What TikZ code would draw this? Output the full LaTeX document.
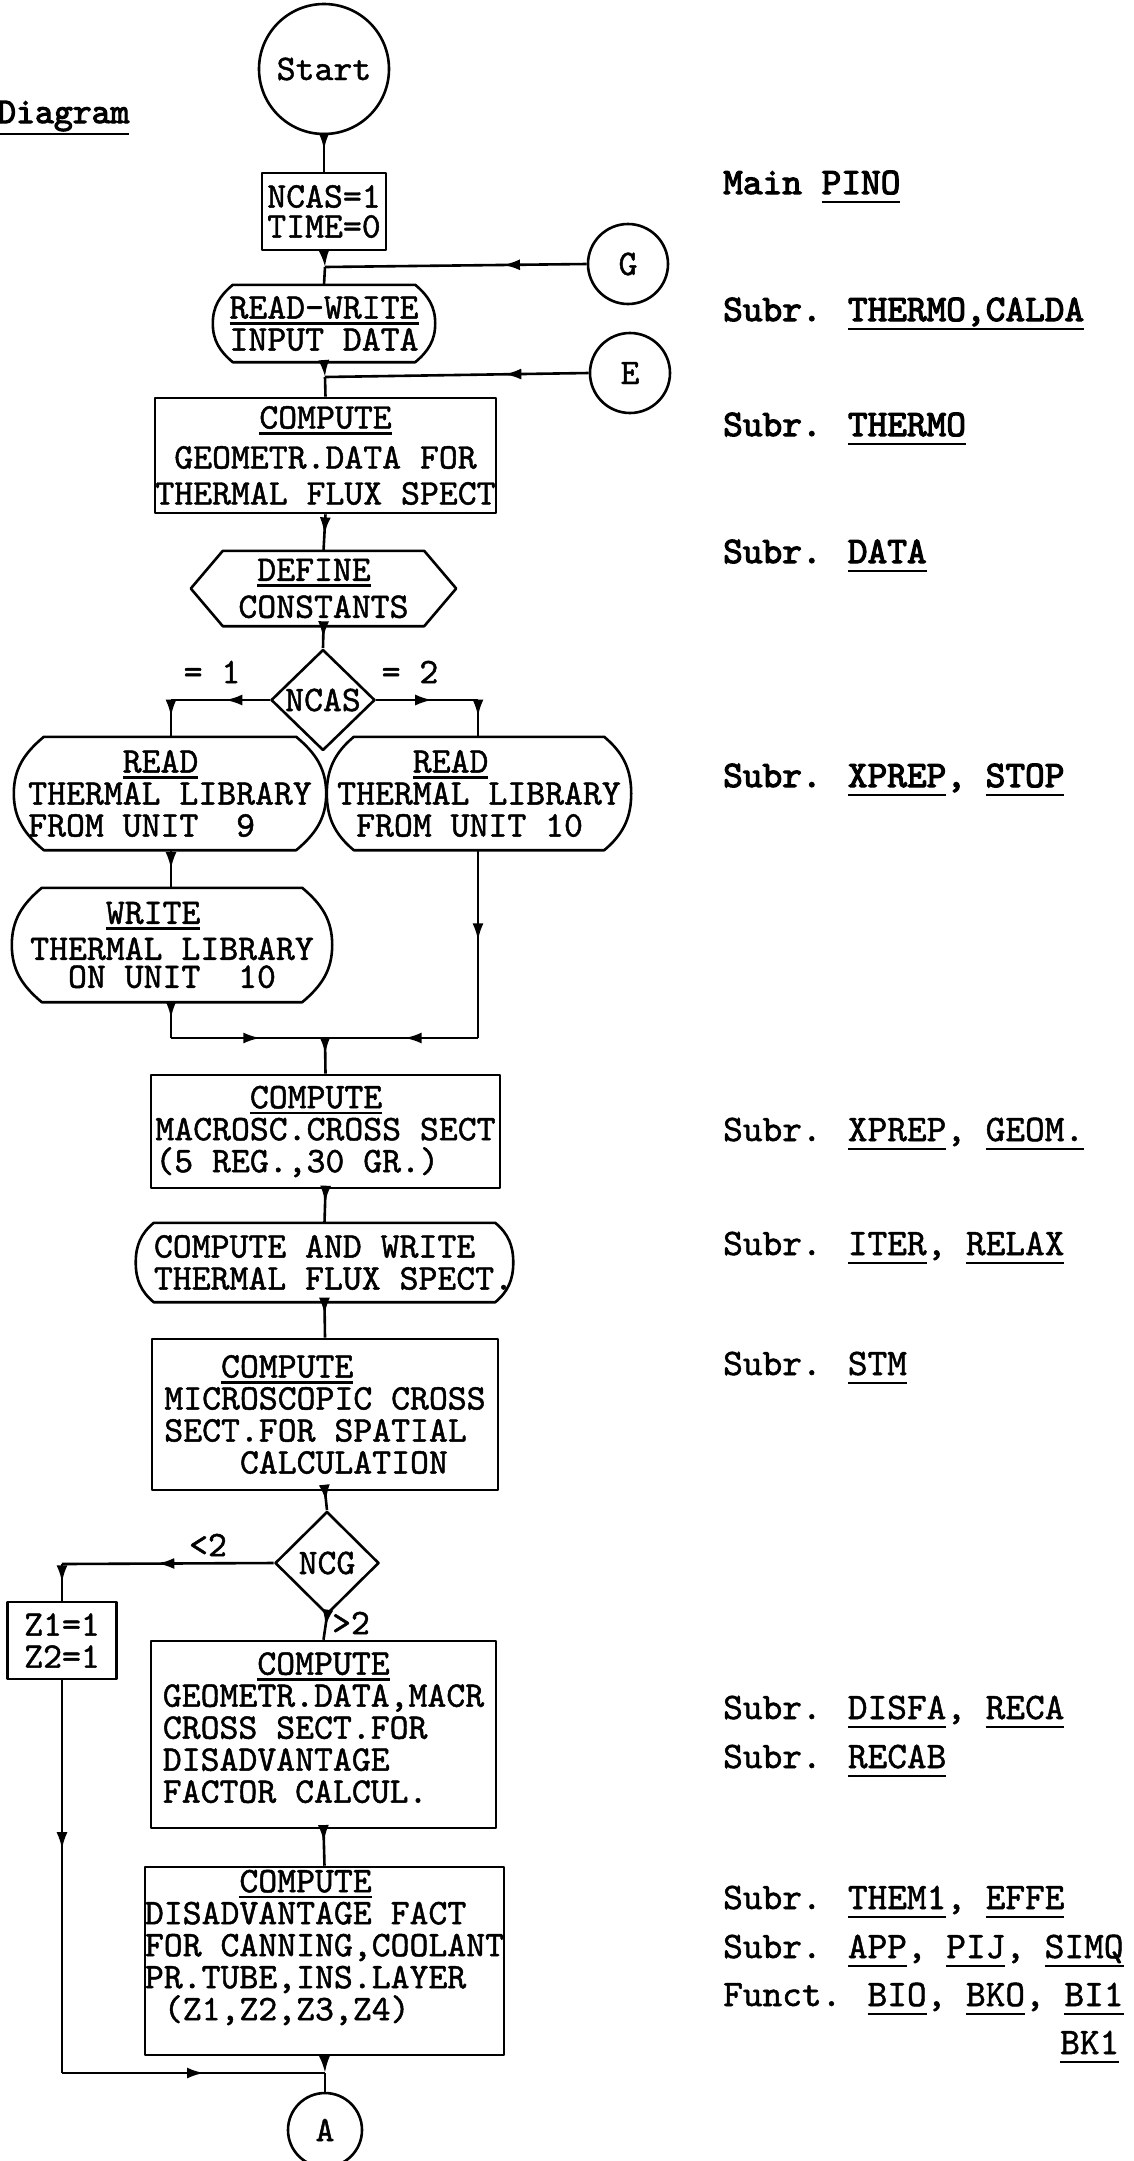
\documentclass[tikz,border=0pt]{standalone}
\usepackage{fontspec}
\newfontfamily\tw{lmmono10-regular.otf}[FakeBold=1.3]
\newfontfamily\twb{lmmono10-regular.otf}[FakeBold=3]
\usetikzlibrary{arrows.meta,decorations.markings,shapes.geometric}
\newcommand\uln[2][-6pt]{\setbox0=\hbox{#2}\rlap{\rule[#1]{\wd0}{2.4pt}}\box0}
\newcommand\ph[1]{\phantom{#1}}
\newcommand\ioshape[2]{\draw[ln] ([xshift=#2]#1.north west) -- ([xshift=-#2]#1.north east)
  to[out=-40,in=90] (#1.east) to[out=-90,in=40] ([xshift=-#2]#1.south east)
  -- ([xshift=#2]#1.south west) to[out=140,in=-90] (#1.west)
  to[out=90,in=220] ([xshift=#2]#1.north west) -- cycle;}
\newcommand\hexshape[2]{\draw[ln] ([xshift=#2]#1.north west) -- ([xshift=-#2]#1.north east)
  -- (#1.east) -- ([xshift=-#2]#1.south east) -- ([xshift=#2]#1.south west) -- (#1.west) -- cycle;}
\tikzset{
  >={Latex[length=17pt,width=11pt]},
  ln/.style={line width=2.6pt, line join=round},
  bfont/.style={font=\tw\fontsize{36}{32}\selectfont},
  box/.style={draw, ln, rectangle, inner sep=0pt, align=center, bfont},
  io/.style={rectangle, inner sep=0pt, align=center, bfont},
  circ/.style={draw, ln, circle, inner sep=0pt, bfont},
  dia/.style={draw, ln, diamond, inner sep=0pt, bfont},
  lab/.style={inner sep=0pt, anchor=base west, font=\tw\fontsize{37.5}{40}\selectfont},
  labb/.style={inner sep=0pt, anchor=base west, font=\twb\fontsize{37.5}{40}\selectfont},
  small/.style={inner sep=0pt, bfont},
  ar/.style={postaction={decorate}, decoration={markings, mark=at position #1 with {\arrow{>}}}},
}
\begin{document}
\begin{tikzpicture}[x=1pt,y=1pt]
\useasboundingbox (0,0) rectangle (1134,-2161);
\fill[white] (0,0) rectangle (1134,-2161);

% title
\node[inner sep=0pt, anchor=base west, font=\twb\fontsize{36}{40}\selectfont] (title) at (-3,-123) {\uln[-12pt]{Diagram}};

% main column
\node[circ, minimum size=130] (start) at (324,-69) {Start};
\node[box, align=left, minimum width=124, minimum height=77] (nbox) at (324,-211.5) {NCAS=1\\[-2pt]TIME=0};
\node[circ, minimum size=80] (G) at (628,-264) {G};
\coordinate (jg) at (325,-267);
\node[io, minimum width=222, minimum height=77] (rw) at (324,-323.5) {\uln{READ-WRITE}\\INPUT DATA};
\ioshape{rw}{20}
\node[circ, minimum size=80] (E) at (630,-373) {E};
\coordinate (je) at (325,-377);
\node[box, minimum width=341, minimum height=115] (geo) at (325.5,-455.5) {\uln{COMPUTE}\\[8pt]GEOMETR.DATA FOR\\[4pt]THERMAL FLUX SPECT};
\node[io, align=left, minimum width=265, minimum height=75] (def) at (323.5,-588.5) {\ph{X}\uln{DEFINE}\\[5pt]CONSTANTS};
\hexshape{def}{32}
\node[dia, minimum width=104, minimum height=101] (ncas) at (323,-700) {\makebox[0pt]{NCAS}};
\coordinate (c1) at (171,-700);
\coordinate (c2) at (478,-700);
\node[small] (eq1) at (212,-672) {= 1};
\node[small] (eq2) at (410,-672) {= 2};

\node[io, align=left, minimum width=312, minimum height=113] (read9) at (170,-793.5) {\ph{XXXXX}\uln{READ}\\THERMAL LIBRARY\\FROM UNIT\ \ 9};
\ioshape{read9}{30}
\node[io, align=left, minimum width=304, minimum height=113] (read10) at (479,-793.5) {\ph{XXXX}\uln{READ}\\THERMAL LIBRARY\\\ph{X}FROM UNIT 10};
\ioshape{read10}{27}
\node[io, align=left, minimum width=320, minimum height=114] (write) at (172,-945) {\ph{XXXX}\uln{WRITE}\\[4pt]THERMAL LIBRARY\\[-4pt]\ph{XX}ON UNIT\ \ 10};
\ioshape{write}{30}
\coordinate (m1) at (171,-1038);
\coordinate (m2) at (478,-1038);
\coordinate (m0) at (325,-1038);

\node[box, align=left, minimum width=349, minimum height=113] (mac) at (325.5,-1131.5) {\ph{XXXXX}\uln{COMPUTE}\\MACROSC.CROSS SECT\\(5 REG.,30 GR.)};
\node[io, align=left, minimum width=375, minimum height=79] (caw) at (324.5,-1262.5) {\hspace*{18pt}COMPUTE AND WRITE\\\hspace*{18pt}THERMAL FLUX SPECT.};
\ioshape{caw}{18}
\node[box, align=left, minimum width=346, minimum height=151] (mic) at (325,-1414.5) {\ph{XXX}\uln{COMPUTE}\\MICROSCOPIC CROSS\\SECT.FOR SPATIAL\\\ph{XXXX}CALCULATION};
\node[dia, minimum width=104, minimum height=103] (ncg) at (327,-1563) {\makebox[0pt]{NCG}};
\coordinate (c3) at (62,-1564);
\node[small] (lt2) at (208,-1545) {<2};
\node[small] (gt2) at (351,-1623) {>2};
\node[box, align=left, minimum width=109, minimum height=77] (z) at (62,-1640.5) {Z1=1\\Z2=1};
\node[box, align=left, minimum width=345, minimum height=187] (gdm) at (323.5,-1734.5) {\ph{XXXXX}\uln{COMPUTE}\\GEOMETR.DATA,MACR\\CROSS SECT.FOR\\DISADVANTAGE\\FACTOR CALCUL.\\[-18pt]\mbox{}};
\node[box, align=left, minimum width=347, minimum height=188] (dis) at (324.5,-1961) {\ph{XXXXX}\uln{COMPUTE}\\DISADVANTAGE FACT\\FOR CANNING,COOLANT\\PR.TUBE,INS.LAYER\\\ph{X}(Z1,Z2,Z3,Z4)\\\mbox{}};
\coordinate (c4) at (62,-2073);
\coordinate (jA) at (325,-2073);
\node[circ, minimum size=74] (A) at (325,-2130) {A};

% connectors
\draw[ln, ar=0.4] (start.south) -- (nbox.north);
\draw[ln, ->] (nbox.south) -- (jg);
\draw[ln] (jg) -- (rw.north);
\draw[ln, ar=0.32] (G.west) -- (jg);
\draw[ln, ->] (rw.south) -- (je);
\draw[ln] (je) -- (geo.north);
\draw[ln, ar=0.32] (E.west) -- (je);
\draw[ln, ar=0.55] (geo.south) -- (def.north);
\draw[ln, ar=0.55] (def.south) -- (ncas.north);
\draw[ln, ar=0.45] (ncas.west) -- (c1);
\draw[ln, ar=0.45] (c1) -- (c1 |- read9.north);
\draw[ln, ar=0.55] (ncas.east) -- (c2);
\draw[ln, ar=0.45] (c2) -- (c2 |- read10.north);
\draw[ln, ar=0.5] (c1 |- read9.south) -- (c1 |- write.north);
\draw[ln, ar=0.45] (c1 |- write.south) -- (m1);
\draw[ln, ar=0.58] (m1) -- (m0);
\draw[ln, ar=0.48] (m2 |- read10.south) -- (m2);
\draw[ln, ar=0.48] (m2) -- (m0);
\draw[ln, ar=0.45] (m0) -- (mac.north);
\draw[ln, ar=0.4] (mac.south) -- (caw.north);
\draw[ln, ar=0.35] (caw.south) -- (mic.north);
\draw[ln, ar=0.55] (mic.south) -- (ncg.north);
\draw[ln, ar=0.55] (ncg.west) -- (c3);
\draw[ln, ar=0.5] (c3) -- (z.north);
\draw[ln, ar=0.45] (ncg.south) -- (gdm.north);
\draw[ln, ar=0.35] (gdm.south) -- (dis.north);
\draw[ln, ar=0.43] (z.south) -- (c4);
\draw[ln, ar=0.54] (c4) -- (jA);
\draw[ln, ->] (dis.south) -- (jA);
\draw[ln] (jA) -- (A.north);

% right-hand labels
\node[labb] (l1) at (723,-194) {Main \uln[-9pt]{PINO}};
\node[labb] (l2) at (723,-321) {Subr. \uln[-9pt]{THERMO,CALDA}};
\node[labb] (l3) at (723,-436) {Subr. \uln[-9pt]{THERMO}};
\node[labb] (l4) at (723,-563) {Subr. \uln[-9pt]{DATA}};
\node[labb] (l5) at (723,-787) {Subr. \uln[-9pt]{XPREP}, \uln[-9pt]{STOP}};
\node[lab] (l6) at (723,-1141) {Subr. \uln[-9pt]{XPREP}, \uln[-9pt]{GEOM.}};
\node[lab] (l7) at (723,-1255) {Subr. \uln[-9pt]{ITER}, \uln[-9pt]{RELAX}};
\node[lab] (l8) at (723,-1375) {Subr. \uln[-9pt]{STM}};
\node[lab] (l9) at (723,-1719) {Subr. \uln[-9pt]{DISFA}, \uln[-9pt]{RECA}};
\node[lab] (l10) at (723,-1768) {Subr. \uln[-9pt]{RECAB}};
\node[lab] (l11) at (723,-1909) {Subr. \uln[-9pt]{THEM1}, \uln[-9pt]{EFFE}};
\node[lab] (l12) at (723,-1958) {Subr. \uln[-9pt]{APP}, \uln[-9pt]{PIJ}, \uln[-9pt]{SIMQ}};
\node[lab] (l13) at (723,-2006) {Funct. \uln[-9pt]{BIO}, \uln[-9pt]{BKO}, \uln[-9pt]{BI1}};
\node[lab] (l14) at (1060,-2054) {\uln[-9pt]{BK1}};
\end{tikzpicture}
\end{document}
